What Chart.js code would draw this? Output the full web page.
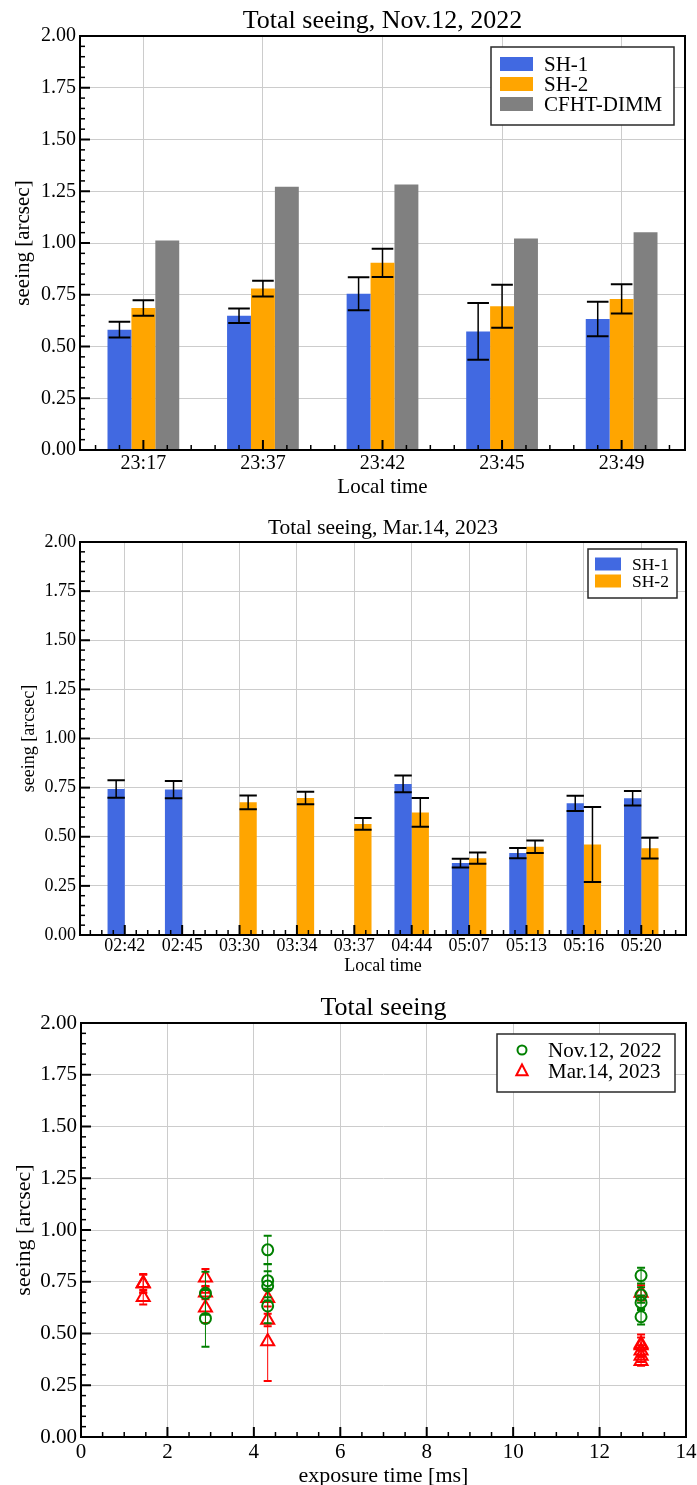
<!DOCTYPE html>
<html><head><meta charset="utf-8">
<script src="https://cdn.jsdelivr.net/npm/chart.js@4"></script>
<style>
html,body{margin:0;padding:0;background:#fff;}
#wrap{position:relative;width:697px;height:1485px;overflow:hidden;background:#fff;}
canvas{position:absolute;left:0;}
</style></head><body>
<div id="wrap">
<canvas id="c1" width="697" height="500" style="top:0px"></canvas>
<canvas id="c2" width="697" height="480" style="top:500px"></canvas>
<canvas id="c3" width="697" height="505" style="top:980px"></canvas>
</div>
<script>
// ---------- Data: Nov.12, 2022 ----------
const timesNov = ['23:17', '23:37', '23:42', '23:45', '23:49'];
const sh1Nov    = [0.581, 0.649, 0.755, 0.573, 0.633];
const sh1NovErr = [0.038, 0.035, 0.080, 0.137, 0.083];
const sh2Nov    = [0.686, 0.780, 0.904, 0.694, 0.730];
const sh2NovErr = [0.037, 0.038, 0.068, 0.104, 0.071];
const dimmNov   = [1.012, 1.272, 1.283, 1.022, 1.052];

// ---------- Data: Mar.14, 2023 ----------
const timesMar = ['02:42', '02:45', '03:30', '03:34', '03:37', '04:44', '05:07', '05:13', '05:16', '05:20'];
const sh1Mar    = [0.743, 0.740, null, null, null, 0.769, 0.366, 0.417, 0.670, 0.696];
const sh1MarErr = [0.044, 0.044, null, null, null, 0.043, 0.022, 0.026, 0.039, 0.037];
const sh2Mar    = [null, null, 0.675, 0.697, 0.565, 0.624, 0.391, 0.449, 0.461, 0.442];
const sh2MarErr = [null, null, 0.035, 0.032, 0.030, 0.073, 0.029, 0.032, 0.191, 0.053];

// ---------- Data: seeing vs exposure time ----------
const novExposure = [2.88, 2.88, 4.32, 4.32, 4.32, 4.32, 12.96, 12.96, 12.96, 12.96];
const novSeeing   = [0.694, 0.573, 0.904, 0.755, 0.730, 0.633, 0.780, 0.686, 0.649, 0.581];
const novErr      = [0.104, 0.137, 0.068, 0.080, 0.071, 0.083, 0.038, 0.037, 0.035, 0.038];
const marExposure = [1.44, 1.44, 1.44, 2.88, 2.88, 2.88, 4.32, 4.32, 4.32, 12.96, 12.96, 12.96, 12.96, 12.96, 12.96];
const marSeeing   = [0.743, 0.740, 0.675, 0.769, 0.697, 0.624, 0.670, 0.565, 0.461, 0.696, 0.366, 0.391, 0.417, 0.449, 0.442];
const marErr      = [0.044, 0.044, 0.035, 0.043, 0.032, 0.073, 0.039, 0.030, 0.191, 0.037, 0.022, 0.029, 0.026, 0.032, 0.053];

const yTicks = [0, 0.25, 0.5, 0.75, 1.0, 1.25, 1.5, 1.75, 2.0];

// ---------- Styles ----------
const SERIF = '"Liberation Serif", "Times New Roman", serif';
const BLUE = '#4169E1', ORANGE = '#FFA500', GRAY = '#808080', GREEN = '#008000', RED = '#FF0000';
const GRID = '#cccccc';

// frame + inward ticks
const framePlugin = {
  id: 'frame',
  afterDraw(chart, args, o) {
    const {ctx, chartArea: a} = chart;
    const xs = chart.scales.x, ys = chart.scales.y;
    ctx.save();
    ctx.strokeStyle = '#000';
    const isMult = (v, s) => Math.abs(v / s - Math.round(v / s)) < 1e-6;
    const run = (scale, minor, major, horiz) => {
      for (let k = Math.ceil(scale.min / minor - 1e-9); k * minor <= scale.max + 1e-9; k++) {
        const v = k * minor;
        const maj = isMult(v, major);
        const len = maj ? 10 : 5;
        ctx.lineWidth = maj ? 2 : 1.5;
        const p = scale.getPixelForValue(v);
        ctx.beginPath();
        if (horiz) { ctx.moveTo(p, a.bottom); ctx.lineTo(p, a.bottom - len); }
        else { ctx.moveTo(a.left, p); ctx.lineTo(a.left + len, p); }
        ctx.stroke();
      }
    };
    run(xs, o.xMinor, o.xMajor, true);
    run(ys, o.yMinor, o.yMajor, false);
    ctx.lineWidth = 2;
    ctx.strokeRect(a.left, a.top, a.right - a.left, a.bottom - a.top);
    ctx.restore();
  }
};

function drawErr(ctx, x, yTop, yBot, half, color, lw, capLw) {
  ctx.save();
  ctx.strokeStyle = color;
  ctx.lineWidth = lw;
  ctx.beginPath(); ctx.moveTo(x, yTop); ctx.lineTo(x, yBot); ctx.stroke();
  ctx.lineWidth = capLw;
  ctx.beginPath();
  ctx.moveTo(x - half, yTop); ctx.lineTo(x + half, yTop);
  ctx.moveTo(x - half, yBot); ctx.lineTo(x + half, yBot);
  ctx.stroke();
  ctx.restore();
}

function errForDataset(chart, i, o) {
  const ds = chart.data.datasets[i];
  if (!ds.errors) return;
  const meta = chart.getDatasetMeta(i);
  const ys = chart.scales.y;
  ds.data.forEach((d, j) => {
    const e = ds.errors[j];
    if (d.y === null || e === null || e === undefined) return;
    const el = meta.data[j];
    drawErr(chart.ctx, el.x, ys.getPixelForValue(d.y + e), ys.getPixelForValue(d.y - e),
      o.cap, ds.errColor || o.color, o.lw, o.capLw);
  });
}

const errorBarPlugin = {
  id: 'errorBars',
  afterDatasetsDraw(chart, args, o) {
    if (o.perDataset) return;
    chart.data.datasets.forEach((ds, i) => errForDataset(chart, i, o));
  },
  beforeDatasetDraw(chart, args, o) {
    if (!o.perDataset) return;
    errForDataset(chart, args.index, o);
  }
};

const legendPlugin = {
  id: 'boxLegend',
  afterDraw(chart, args, o) {
    const ctx = chart.ctx;
    ctx.save();
    ctx.fillStyle = '#fff';
    ctx.fillRect(o.x, o.y, o.w, o.h);
    ctx.strokeStyle = '#2a2a2a';
    ctx.lineWidth = 1.5;
    ctx.strokeRect(o.x, o.y, o.w, o.h);
    chart.data.datasets.forEach((ds, i) => {
      const cy = o.firstY + i * o.rowH;
      if (o.kind === 'rect') {
        ctx.fillStyle = ds.backgroundColor;
        ctx.fillRect(o.swX, cy - o.swH / 2, o.swW, o.swH);
      } else {
        ctx.strokeStyle = ds.pointBorderColor;
        ctx.lineWidth = 2;
        ctx.beginPath();
        if (ds.pointStyle === 'circle') {
          ctx.arc(o.swX, cy, o.circleR, 0, Math.PI * 2);
        } else {
          const r = o.triR;
          ctx.moveTo(o.swX, cy - r);
          ctx.lineTo(o.swX + r * 0.866, cy + r * 0.5 + 1);
          ctx.lineTo(o.swX - r * 0.866, cy + r * 0.5 + 1);
          ctx.closePath();
        }
        ctx.stroke();
      }
      ctx.fillStyle = '#000';
      ctx.font = o.font;
      ctx.textBaseline = 'middle';
      ctx.textAlign = 'left';
      ctx.fillText(ds.label, o.textX, cy + 1);
    });
    ctx.restore();
  }
};

function yScale(width, tickSize, titleSize, titlePad) {
  return {
    min: 0, max: 2,
    afterBuildTicks: s => { s.ticks = yTicks.map(v => ({value: v})); },
    afterFit: s => { s.width = width; },
    grid: {color: GRID, lineWidth: 1, drawTicks: false},
    border: {display: false},
    ticks: {callback: v => v.toFixed(2), color: '#000', padding: 4,
      font: {family: SERIF, size: tickSize, lineHeight: 1}},
    title: {display: true, text: 'seeing [arcsec]', color: '#000',
      font: {family: SERIF, size: titleSize, lineHeight: 1}, padding: {top: titlePad, bottom: 0}}
  };
}

function catXScale(labels, min, max, height, tickSize, tickPad, titleSize, titlePad) {
  return {
    type: 'linear', min: min, max: max, offset: false,
    afterBuildTicks: s => { s.ticks = labels.map((t, i) => ({value: i})); },
    afterFit: s => { s.height = height; s.paddingLeft = 0; s.paddingRight = 0; },
    grid: {color: GRID, lineWidth: 1, drawTicks: false, offset: false},
    border: {display: false},
    ticks: {callback: v => (labels[v] !== undefined ? labels[v] : ''), color: '#000', padding: tickPad,
      maxRotation: 0, autoSkip: false, font: {family: SERIF, size: tickSize, lineHeight: 1}},
    title: {display: true, text: 'Local time', color: '#000',
      font: {family: SERIF, size: titleSize, lineHeight: 1}, padding: {top: 0, bottom: titlePad}}
  };
}

const common = {responsive: false, animation: false, devicePixelRatio: 1, events: []};

// ---------- Chart 1 ----------
new Chart(document.getElementById('c1'), {
  type: 'bar',
  data: {datasets: [
    {label: 'SH-1', data: sh1Nov.map((v, i) => ({x: i, y: v})), backgroundColor: BLUE, errors: sh1NovErr},
    {label: 'SH-2', data: sh2Nov.map((v, i) => ({x: i, y: v})), backgroundColor: ORANGE, errors: sh2NovErr},
    {label: 'CFHT-DIMM', data: dimmNov.map((v, i) => ({x: i, y: v})), backgroundColor: GRAY}
  ]},
  options: Object.assign({}, common, {
    layout: {padding: {left: 0, right: 12, top: 0, bottom: 0}},
    datasets: {bar: {categoryPercentage: 0.6, barPercentage: 1, borderWidth: 0}},
    plugins: {
      legend: {display: false}, tooltip: {enabled: false},
      title: {display: true, fullSize: false, text: 'Total seeing, Nov.12, 2022', color: '#000',
        font: {family: SERIF, size: 26, weight: 'normal', lineHeight: 1.15}, padding: {top: 6, bottom: 0.1}},
      frame: {xMajor: 1, xMinor: 0.2, yMajor: 0.25, yMinor: 0.05},
      errorBars: {cap: 10.8, lw: 1.5, capLw: 2, color: '#000'},
      boxLegend: {kind: 'rect', x: 491, y: 47, w: 183, h: 78, firstY: 64, rowH: 20,
        swX: 500, swW: 33, swH: 14, textX: 544, font: '21px ' + SERIF}
    },
    scales: {
      x: catXScale(timesNov, -0.53, 4.53, 50, 20, 4, 21, 2.5),
      y: yScale(80, 20, 21, 13)
    }
  }),
  plugins: [framePlugin, errorBarPlugin, legendPlugin]
});

// ---------- Chart 2 ----------
new Chart(document.getElementById('c2'), {
  type: 'bar',
  data: {datasets: [
    {label: 'SH-1', data: sh1Mar.map((v, i) => ({x: i, y: v})), backgroundColor: BLUE, errors: sh1MarErr},
    {label: 'SH-2', data: sh2Mar.map((v, i) => ({x: i, y: v})), backgroundColor: ORANGE, errors: sh2MarErr}
  ]},
  options: Object.assign({}, common, {
    layout: {padding: {left: 0, right: 11, top: 0, bottom: 0}},
    datasets: {bar: {categoryPercentage: 0.6, barPercentage: 1, borderWidth: 0}},
    plugins: {
      legend: {display: false}, tooltip: {enabled: false},
      title: {display: true, fullSize: false, text: 'Total seeing, Mar.14, 2023', color: '#000',
        font: {family: SERIF, size: 21.5, weight: 'normal', lineHeight: 1.2}, padding: {top: 15.9, bottom: 0.3}},
      frame: {xMajor: 1, xMinor: 0.2, yMajor: 0.25, yMinor: 0.05},
      errorBars: {cap: 8.7, lw: 1.5, capLw: 2, color: '#000'},
      boxLegend: {kind: 'rect', x: 588, y: 49, w: 89, h: 49, firstY: 64, rowH: 17,
        swX: 595, swW: 26, swH: 13, textX: 632, font: '17.5px ' + SERIF}
    },
    scales: {
      x: catXScale(timesMar, -0.78, 9.78, 45, 18, 2, 18, 5),
      y: yScale(80, 18, 18, 20)
    }
  }),
  plugins: [framePlugin, errorBarPlugin, legendPlugin]
});

// ---------- Chart 3 ----------
new Chart(document.getElementById('c3'), {
  type: 'scatter',
  data: {datasets: [
    {label: 'Nov.12, 2022', data: novExposure.map((x, i) => ({x: x, y: novSeeing[i]})), errors: novErr,
      errColor: GREEN, pointStyle: 'circle', pointRadius: 5.5, pointBorderWidth: 2,
      pointBorderColor: GREEN, pointBackgroundColor: 'rgba(0,0,0,0)'},
    {label: 'Mar.14, 2023', data: marExposure.map((x, i) => ({x: x, y: marSeeing[i]})), errors: marErr,
      errColor: RED, pointStyle: 'triangle', pointRadius: 7.5, pointBorderWidth: 2,
      pointBorderColor: RED, pointBackgroundColor: 'rgba(0,0,0,0)'}
  ]},
  options: Object.assign({}, common, {
    layout: {padding: {left: 0, right: 11, top: 0, bottom: 0}},
    plugins: {
      legend: {display: false}, tooltip: {enabled: false},
      title: {display: true, fullSize: false, text: 'Total seeing', color: '#000',
        font: {family: SERIF, size: 26, weight: 'normal', lineHeight: 1.15}, padding: {top: 13, bottom: 0.1}},
      frame: {xMajor: 2, xMinor: 0.5, yMajor: 0.25, yMinor: 0.05},
      errorBars: {perDataset: true, cap: 4, lw: 1, capLw: 2, color: '#000'},
      boxLegend: {kind: 'marker', x: 497, y: 54, w: 178, h: 58, firstY: 70, rowH: 21,
        swX: 522, circleR: 4.5, triR: 6.5, textX: 548, font: '21px ' + SERIF}
    },
    scales: {
      x: {
        type: 'linear', min: 0, max: 14,
        afterFit: s => { s.height = 48; s.paddingLeft = 0; s.paddingRight = 0; },
        grid: {color: GRID, lineWidth: 1, drawTicks: false},
        border: {display: false},
        ticks: {stepSize: 2, color: '#000', padding: 4.5, maxRotation: 0,
          font: {family: SERIF, size: 21, lineHeight: 1}},
        title: {display: true, text: 'exposure time [ms]', color: '#000',
          font: {family: SERIF, size: 22, lineHeight: 1}, padding: {top: 0, bottom: -2}}
      },
      y: yScale(81, 21, 22, 13)
    }
  }),
  plugins: [framePlugin, errorBarPlugin, legendPlugin]
});
</script>
</body></html>
